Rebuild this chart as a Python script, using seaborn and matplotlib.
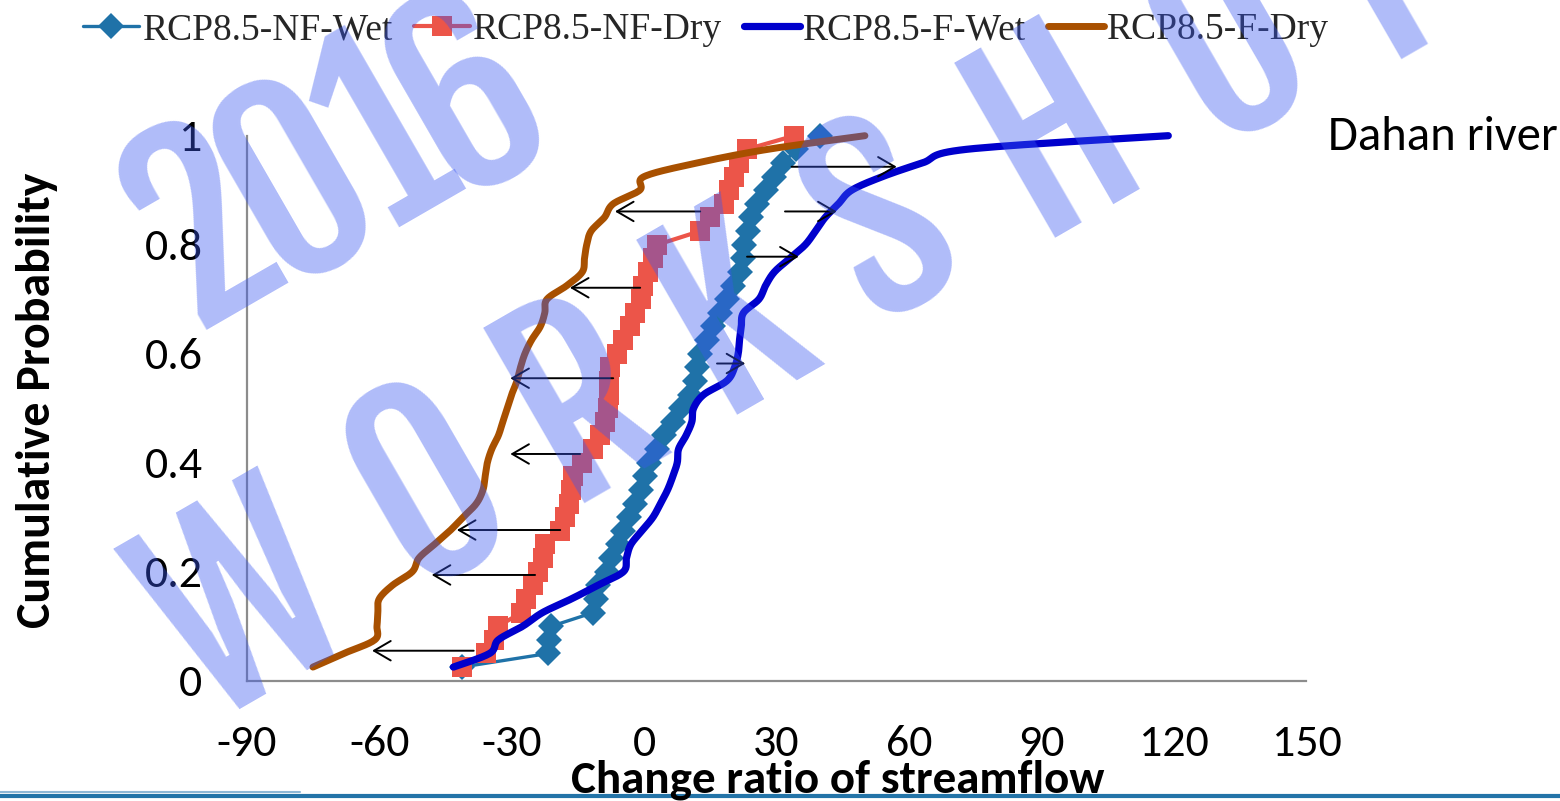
import numpy as np
import matplotlib
matplotlib.use("Agg")
import matplotlib.pyplot as plt
from matplotlib.lines import Line2D
from matplotlib.font_manager import FontProperties
import seaborn as sns

# cumulative probability of the 40 ranked change ratios
prob = [k / 40 for k in range(1, 41)]

nf_wet = [-41.3, -21.7, -21.5, -21.0, -11.5, -11.0, -10.5, -8.5, -7.5, -6.0,
          -4.7, -3.5, -2.0, -0.8, 0.3, 1.0, 3.0, 4.6, 6.5, 8.4,
          10.5, 11.5, 12.0, 12.7, 14.2, 15.7, 17.2, 18.7, 20.2, 21.6,
          22.5, 22.7, 23.6, 24.2, 25.5, 27.5, 29.5, 31.5, 34.5, 39.8]
nf_dry = [-41.3, -35.8, -34.0, -33.0, -27.8, -26.8, -25.2, -24.0, -23.0, -22.5,
          -19.0, -18.0, -17.0, -16.5, -16.0, -14.0, -11.5, -10.0, -8.8, -8.2,
          -8.0, -8.0, -7.7, -6.2, -4.7, -3.2, -2.0, -0.8, -0.2, 0.9,
          2.0, 3.0, 12.7, 15.0, 18.0, 19.2, 20.3, 21.4, 23.2, 34.0]
f_wet = [-43.2, -35.0, -33.0, -27.5, -23.0, -16.5, -10.5, -4.7, -4.0, -3.0,
         -0.5, 2.0, 3.7, 5.3, 6.5, 7.5, 7.8, 9.5, 10.8, 11.2,
         13.5, 18.7, 20.5, 21.3, 21.6, 22.0, 22.5, 26.0, 27.5, 29.5,
         33.0, 36.5, 38.8, 41.0, 44.0, 47.0, 54.0, 63.0, 73.0, 118.7]
f_dry = [-75.0, -68.0, -61.0, -60.5, -60.3, -60.0, -57.0, -52.5, -51.0, -47.5,
         -44.0, -41.0, -38.0, -36.5, -36.0, -35.5, -34.5, -33.0, -32.0, -31.0,
         -30.0, -28.8, -28.0, -27.0, -25.5, -23.5, -22.5, -22.0, -17.5, -14.0,
         -13.5, -13.0, -12.0, -9.0, -7.0, -1.0, 0.0, 12.0, 28.0, 50.0]

series_names = ["RCP8.5-NF-Wet", "RCP8.5-NF-Dry", "RCP8.5-F-Wet", "RCP8.5-F-Dry"]

# shift arrows: near-future -> future at selected probability levels
dry_arrow_y = [0.055, 0.194, 0.2765, 0.416, 0.555, 0.721, 0.861]
dry_arrow_from = [-38.6, -24.7, -19.0, -14.5, -7.0, -0.9, 12.7]
dry_arrow_to = [-61.6, -48.1, -42.4, -30.3, -30.3, -16.8, -6.6]
wet_arrow_y = [0.582, 0.778, 0.861, 0.943]
wet_arrow_from = [16.5, 23.3, 31.9, 33.4]
wet_arrow_to = [22.9, 35.0, 43.6, 57.2]

x_ticks = [-90, -60, -30, 0, 30, 60, 90, 120, 150]
y_ticks = [0, 0.2, 0.4, 0.6, 0.8, 1]
x_label = "Change ratio of streamflow"
y_label = "Cumulative Probability"
river = "Dahan river"
wm_line1 = "2016"
wm_line2 = "WORKSHOP"


def smooth(xs, ys, n=16):
    """Catmull-Rom path through the points (Excel-style smoothed line)."""
    p = np.column_stack([xs, ys]).astype(float)
    p = np.vstack([p[0], p, p[-1]])
    t = np.linspace(0, 1, n, endpoint=False)[:, None]
    segs = []
    for i in range(1, len(p) - 2):
        p0, p1, p2, p3 = p[i - 1], p[i], p[i + 1], p[i + 2]
        segs.append(0.5 * (2 * p1 + (-p0 + p2) * t
                           + (2 * p0 - 5 * p1 + 4 * p2 - p3) * t ** 2
                           + (-p0 + 3 * p1 - 3 * p2 + p3) * t ** 3))
    segs.append(p[-2][None, :])
    out = np.vstack(segs)
    return out[:, 0], out[:, 1]


sns.set_theme(style="white")
plt.rcParams["font.family"] = ["Carlito", "Lato", "DejaVu Sans"]

W, H, DPI = 1560, 801, 100
fig = plt.figure(figsize=(W / DPI, H / DPI), dpi=DPI)
fig.patch.set_facecolor("white")
ax = fig.add_axes([246.7 / W, 1 - 680.7 / H, (1306.5 - 246.7) / W, (680.7 - 135.7) / H])
ax.set_facecolor("white")

c_nf_wet = "#1F72A8"
c_nf_dry = "#EC5549"
c_f_wet = "#0000CC"
c_f_dry = "#A85000"

sns.lineplot(x=nf_wet, y=prob, ax=ax, color=c_nf_wet, lw=2.4, marker="D",
             markersize=13.5, markeredgewidth=0, sort=False, estimator=None,
             label=series_names[0], zorder=2)
sns.lineplot(x=nf_dry, y=prob, ax=ax, color=c_nf_dry, lw=3.0, marker="s",
             markersize=14.4, markeredgewidth=0, sort=False, estimator=None,
             label=series_names[1], zorder=3)
sx, sy = smooth(f_wet, prob)
sns.lineplot(x=sx, y=sy, ax=ax, color=c_f_wet, lw=5.2, sort=False, estimator=None,
             label=series_names[2], zorder=4)
sx, sy = smooth(f_dry, prob)
sns.lineplot(x=sx, y=sy, ax=ax, color=c_f_dry, lw=5.0, sort=False, estimator=None,
             label=series_names[3], zorder=5)
for ln in ax.lines:
    ln.set_clip_on(False)
    ln.set_solid_capstyle("round")
    ln.set_solid_joinstyle("round")

arrow_kw = dict(arrowstyle="->,head_length=0.6,head_width=0.35", color="black",
                lw=1.4, mutation_scale=20, shrinkA=0, shrinkB=0)
for yv, x0, x1 in zip(dry_arrow_y, dry_arrow_from, dry_arrow_to):
    ax.annotate("", xy=(x1, yv), xytext=(x0, yv), arrowprops=arrow_kw, zorder=6)
for yv, x0, x1 in zip(wet_arrow_y, wet_arrow_from, wet_arrow_to):
    ax.annotate("", xy=(x1, yv), xytext=(x0, yv), arrowprops=arrow_kw, zorder=6)

ax.set_xlim(-90, 150)
ax.set_ylim(0, 1)
ax.set_xticks(x_ticks)
ax.set_xticklabels([str(v) for v in x_ticks])
ax.set_yticks(y_ticks)
ax.set_yticklabels([f"{v:g}" for v in y_ticks])
ax.set_xlabel("")
ax.set_ylabel("")
for side in ("top", "right"):
    ax.spines[side].set_visible(False)
for side in ("left", "bottom"):
    ax.spines[side].set_color("#8C8C8C")
    ax.spines[side].set_linewidth(1.6)
ax.tick_params(axis="both", direction="out", length=10.8, width=1.4,
               color="#8C8C8C", pad=21, labelsize=33, labelcolor="black")
ax.grid(False)

handles, labels = ax.get_legend_handles_labels()
if ax.get_legend() is not None:
    ax.get_legend().remove()
fig.legend(handles, labels, loc="center", bbox_to_anchor=(706 / W, 1 - 30 / H),
           ncol=4, frameon=False, prop=FontProperties(family="Liberation Serif", size=27),
           handlelength=1.5, handletextpad=0.08, columnspacing=0.57,
           borderpad=0, borderaxespad=0)

fig.text(37 / W, 1 - 400 / H, y_label, rotation=90, ha="center", va="center",
         fontsize=34.5, fontweight="bold", color="black")
fig.text(1328 / W, 1 - 137 / H, river, ha="left", va="center", fontsize=35,
         color="black")

# slide rule along the bottom edge
fig.add_artist(Line2D([0, 1], [1 - 796 / H] * 2, transform=fig.transFigure,
                      color="#2374A8", lw=3.0, zorder=1))
fig.add_artist(Line2D([0, 300 / W], [1 - 791.5 / H] * 2, transform=fig.transFigure,
                      color="#8FB8D6", lw=1.5, zorder=1))
fig.text(838 / W, 1 - 793 / H, x_label, ha="center", va="baseline", fontsize=33.8,
         fontweight="bold", color="black", zorder=4)

# translucent watermark lettering
wm_font = ["Fjalla One", "Oswald", "Saira Condensed", "DejaVu Sans"]
wm_rgba = (57 / 255, 87 / 255, 242 / 255, 0.4)
wm_pos1 = [(205, 232), (298, 188), (385, 140), (470, 100)]
wm_pos2 = [(245, 610), (430, 490), (581, 402), (732, 315), (883, 227),
           (1055, 135), (1230, 45), (1395, -40)]
for ch, (px, py) in zip(wm_line1, wm_pos1):
    fig.text(px / W, 1 - py / H, ch, rotation=30, rotation_mode="anchor",
             ha="center", va="center", fontsize=175, fontweight="bold",
             family=wm_font, color=wm_rgba, zorder=20)
for ch, (px, py) in zip(wm_line2, wm_pos2):
    fig.text(px / W, 1 - py / H, ch, rotation=30, rotation_mode="anchor",
             ha="center", va="center", fontsize=175, fontweight="bold",
             family=wm_font, color=wm_rgba, zorder=20)

fig.savefig("out.png", dpi=DPI, facecolor="white")
